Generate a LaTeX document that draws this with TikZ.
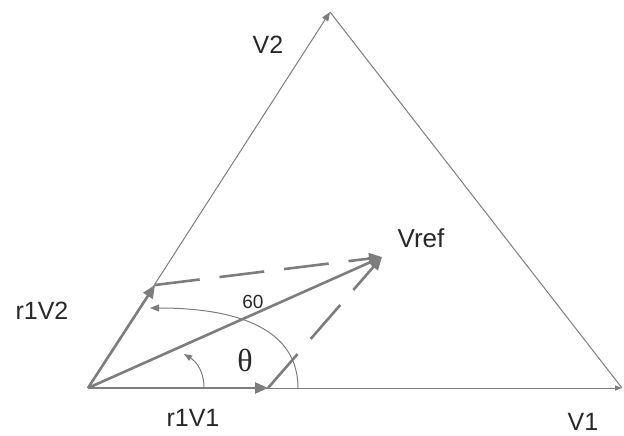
\documentclass[tikz,border=0pt]{standalone}
\usepackage{fontspec}
\setmainfont{Liberation Sans}
\newfontfamily\serifgr{Liberation Serif}
\usetikzlibrary{arrows.meta}
\definecolor{lg}{RGB}{125,125,125}
\definecolor{tx}{RGB}{40,40,40}
\begin{document}
\begin{tikzpicture}[x=1pt,y=-1pt,
  thin line/.style={draw=lg,line width=1pt},
  thick vec/.style={draw=lg,line width=2.6pt,-{Triangle[length=13pt,width=11pt]}},
  dash vec/.style={thick vec,dash pattern=on 45pt off 20pt},
  lab/.style={text=tx,font=\fontsize{25}{27}\selectfont,inner sep=0pt}]
\useasboundingbox (0,0) rectangle (624,436);
\coordinate (O) at (88,388);
\coordinate (V1) at (622,388);
\coordinate (V2) at (330,12);
\coordinate (R1) at (268,388);
\coordinate (R2) at (155,285);
\coordinate (VR) at (382,257);
\coordinate (A1) at (298,388);
\coordinate (A2) at (150,308);
\coordinate (T1) at (204,388);
\coordinate (T2) at (184,354);
% triangle
\draw[thin line,-{Triangle[length=9pt,width=7pt]}] (O) -- (V2);
\draw[thin line] (V2) -- (V1);
\draw[thin line,-{Triangle[length=7pt,width=5pt]}] (O) -- (V1);
% vectors
\draw[thick vec] (O) -- (R1);
\draw[thick vec] (O) -- (R2);
\draw[thick vec] (O) -- (VR);
\draw[dash vec] (R2) -- (VR);
\draw[dash vec] (R1) -- (VR);
% arcs
\draw[thin line,-{Triangle[length=9pt,width=7pt]}] (A1) .. controls (298,330) and (240,308) .. (A2);
\draw[thin line,-{Triangle[length=8pt,width=6pt]}] (T1) .. controls (204,372) and (197,362) .. (T2);
% labels
\node[lab] (l60) at (253,302) {\fontsize{19}{21}\selectfont 60};
\node[lab] (lth) at (245,360) {\serifgr\fontsize{32}{34}\selectfont θ};
\node[lab] (lv2) at (268,45) {V2};
\node[lab] (lv1) at (583,422) {V1};
\node[lab] (lr1) at (193,418) {r1V1};
\node[lab] (lr2) at (42,311) {r1V2};
\node[lab] (lvr) at (421,238) {\fontsize{26}{28}\selectfont Vref};
\end{tikzpicture}
\end{document}
